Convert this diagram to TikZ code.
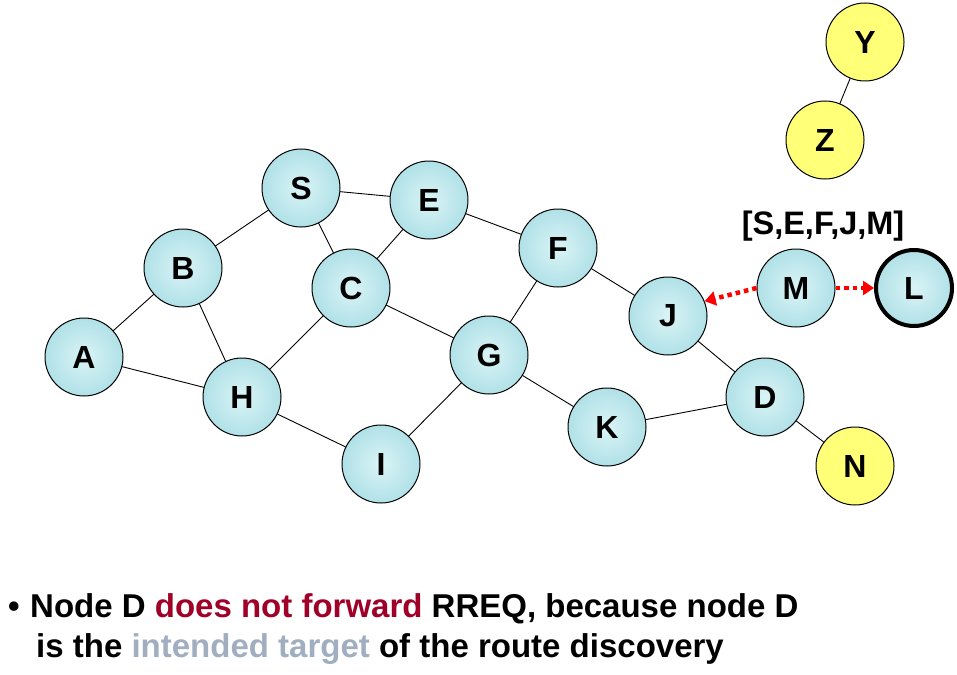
\documentclass[tikz,border=0pt]{standalone}
\usepackage{fontspec}
\setmainfont{Liberation Sans}
\usetikzlibrary{arrows.meta}
\definecolor{bubbleIn}{RGB}{218,244,246}
\definecolor{bubbleOut}{RGB}{176,225,231}
\definecolor{sunny}{RGB}{255,255,120}
\definecolor{warnred}{RGB}{160,0,40}
\definecolor{softgray}{RGB}{160,174,192}
\tikzset{
  host/.style={circle, draw=black, line width=1pt, minimum size=78pt, inner sep=0pt,
    inner color=bubbleIn, outer color=bubbleOut, font=\fontsize{32}{32}\selectfont\bfseries},
  isolated/.style={host, fill=sunny, inner color=sunny, outer color=sunny},
  target/.style={host, line width=4pt, minimum size=76pt},
  link/.style={draw=black, line width=0.9pt},
  rrep/.style={draw=red, line width=4.5pt, dash pattern=on 4.5pt off 4pt,
    -{Triangle[length=11pt,width=14pt,fill=red]}},
  caption/.style={anchor=base west, inner sep=0pt, font=\fontsize{33}{33}\selectfont\bfseries}
}
\begin{document}
\begin{tikzpicture}[x=1pt,y=-1pt]
\useasboundingbox (0,0) rectangle (957,674);
% network links
\draw[link] (84,357) -- (183,268);
\draw[link] (84,357) -- (242,397);
\draw[link] (183,268) -- (301,188);
\draw[link] (183,268) -- (242,397);
\draw[link] (301,188) -- (429,200);
\draw[link] (301,188) -- (351,288);
\draw[link] (429,200) -- (351,288);
\draw[link] (429,200) -- (558,248);
\draw[link] (351,288) -- (242,397);
\draw[link] (351,288) -- (489,355);
\draw[link] (558,248) -- (489,355);
\draw[link] (558,248) -- (668,316);
\draw[link] (489,355) -- (381,464);
\draw[link] (489,355) -- (607,427);
\draw[link] (242,397) -- (381,464);
\draw[link] (668,316) -- (765,397);
\draw[link] (607,427) -- (765,397);
\draw[link] (765,397) -- (855,466);
\draw[link] (865,42) -- (825,140);
% hosts
\node[isolated] (Y) at (865,42) {Y};
\node[isolated] (Z) at (825,140) {Z};
\node[host] (S) at (301,188) {S};
\node[host] (E) at (429,200) {E};
\node[host] (F) at (558,248) {F};
\node[host] (B) at (183,268) {B};
\node[host] (C) at (351,288) {C};
\node[host] (J) at (668,316) {J};
\node[host] (M) at (796,288) {M};
\node[target] (L) at (914,288) {L};
\node[host] (A) at (84,357) {A};
\node[host] (G) at (489,355) {G};
\node[host] (H) at (242,397) {H};
\node[host] (D) at (765,397) {D};
\node[host] (K) at (607,427) {K};
\node[host] (I) at (381,464) {I};
\node[isolated] (N) at (855,466) {N};
% route record carried by the reply
\node[font=\fontsize{32.5}{32.5}\selectfont\bfseries] (rec) at (823,226) {[S,E,F,J,M]};
\draw[rrep] (M.west) -- (J.22);
\draw[rrep] (M.east) -- (L.west);
% caption
\node[caption] (b1) at (8,617) {•};
\node[caption] (t1) at (30,617) {Node D \textcolor{warnred}{does not forward} RREQ, because node D};
\node[caption] (t2) at (36,657) {is the \textcolor{softgray}{intended target} of the route discovery};
\end{tikzpicture}
\end{document}
